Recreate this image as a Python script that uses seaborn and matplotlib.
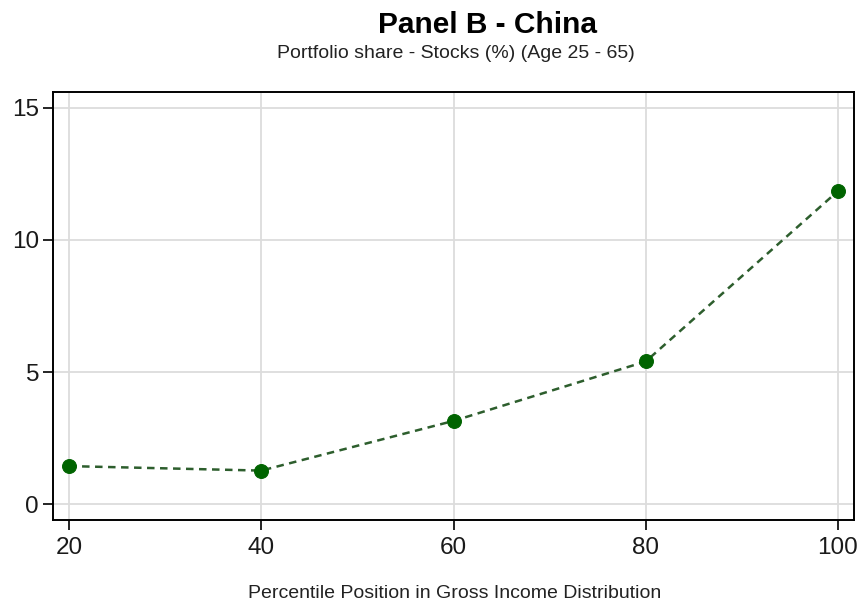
import matplotlib
matplotlib.use("Agg")
import matplotlib.pyplot as plt
import seaborn as sns
import pandas as pd

percentiles = [20, 40, 60, 80, 100]
stock_share = [1.44, 1.27, 3.15, 5.40, 11.85]
x_ticks = [20, 40, 60, 80, 100]
y_ticks = [0, 5, 10, 15]

title = "Panel B - China"
subtitle = "Portfolio share - Stocks (%) (Age 25 - 65)"
xlabel = "Percentile Position in Gross Income Distribution"

sns.set_theme(style="white")
plt.rcParams['font.family'] = ['Liberation Sans', 'DejaVu Sans']

df = pd.DataFrame({"pct": percentiles, "share": stock_share})

fig = plt.figure(figsize=(8.61, 6.05), dpi=100)
ax = fig.add_axes([53/861, 1-520/605, (854-53)/861, (520-92)/605])

sns.lineplot(data=df, x="pct", y="share", ax=ax, color="#2d5e2d",
             linestyle=(0, (3, 2.2)), linewidth=1.8, marker="o",
             markersize=10, markerfacecolor="#006400", markeredgecolor="#006400")

ax.set_xlim(18.33, 101.67)
ax.set_ylim(-0.6, 15.6)
ax.set_xticks(x_ticks)
ax.set_yticks(y_ticks)
ax.grid(True, color="#dcdcdc", linewidth=1.3)
ax.set_axisbelow(True)
for s in ax.spines.values():
    s.set_color("black")
    s.set_linewidth(1.4)
ax.tick_params(axis="both", which="both", direction="out", length=7, width=1.2,
               color="black", labelsize=17.5, labelcolor="#1a1a1a",
               bottom=True, left=True, pad=3)
ax.tick_params(axis="x", pad=5)
ax.set_xlabel("")
ax.set_ylabel("")

fig.text(488/861, 1-25/605, title, ha="center", va="center",
         fontsize=21.5, fontweight="bold", color="black")
fig.text(456/861, 1-53/605, subtitle, ha="center", va="center",
         fontsize=14, color="#222222")
fig.text(455/861, 1-594/605, xlabel, ha="center", va="center",
         fontsize=14, color="#222222")

fig.savefig("out.png", dpi=100, facecolor="white")
